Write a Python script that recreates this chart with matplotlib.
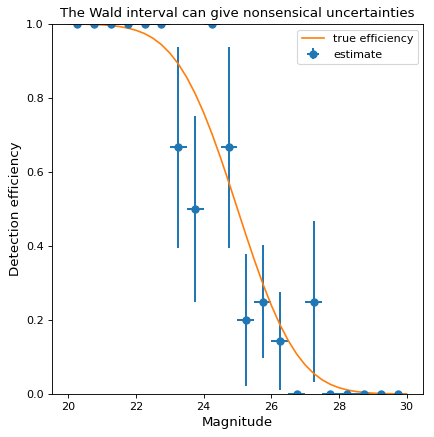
import matplotlib
matplotlib.use("Agg")
import matplotlib.pyplot as plt

# Binned estimates
mag_centers = [20.25, 20.75, 21.25, 21.75, 22.25, 22.75, 23.25, 23.75, 24.25, 24.75,
               25.25, 25.75, 26.25, 26.75, 27.25, 27.75, 28.25, 28.75, 29.25, 29.75]
efficiency = [1.0, 1.0, 1.0, 1.0, 1.0, 1.0, 0.667, 0.5, 1.0, 0.667,
              0.2, 0.25, 0.143, 0.0, 0.25, 0.0, 0.0, 0.0, 0.0, 0.0]
eff_err = [0.0, 0.0, 0.0, 0.0, 0.0, 0.0, 0.272, 0.25, 0.0, 0.272,
           0.179, 0.153, 0.132, 0.0, 0.217, 0.0, 0.0, 0.0, 0.0, 0.0]
bin_halfwidth = [0.25] * 20

# True efficiency curve
true_mag = [20.0, 20.25, 20.5, 20.75, 21.0, 21.25, 21.5, 21.75, 22.0, 22.25,
            22.5, 22.75, 23.0, 23.25, 23.5, 23.75, 24.0, 24.25, 24.5, 24.75,
            25.0, 25.25, 25.5, 25.75, 26.0, 26.25, 26.5, 26.75, 27.0, 27.25,
            27.5, 27.75, 28.0, 28.25, 28.5, 28.75, 29.0, 29.25, 29.5, 29.75, 30.0]
true_eff = [0.9998, 0.9996, 0.9993, 0.9987, 0.9977, 0.9960, 0.9933, 0.9892, 0.9830, 0.9741,
            0.9615, 0.9442, 0.9214, 0.8920, 0.8556, 0.8116, 0.7602, 0.7021, 0.6382, 0.5702,
            0.5000, 0.4298, 0.3618, 0.2979, 0.2398, 0.1884, 0.1444, 0.1080, 0.0786, 0.0558,
            0.0385, 0.0259, 0.0170, 0.0108, 0.0067, 0.0040, 0.0023, 0.0013, 0.0007, 0.0004, 0.0002]

xticks = [20, 22, 24, 26, 28, 30]
yticks = [0.0, 0.2, 0.4, 0.6, 0.8, 1.0]

DPI = 80
W, H = 434, 437
fig = plt.figure(figsize=(W / DPI, H / DPI), dpi=DPI)
ax = fig.add_axes([51.5 / W, 1 - 394 / H, (423.5 - 51.5) / W, (394 - 24) / H])

ax.errorbar(mag_centers, efficiency, xerr=bin_halfwidth, yerr=eff_err,
            fmt='o', color='#1f77b4', linewidth=1.8, markersize=6.5, label='estimate')
ax.plot(true_mag, true_eff, color='#ff7f0e', linewidth=1.5, label='true efficiency')

ax.set_ylim(0, 1)
ax.set_xlim(19.5, 30.5)
ax.set_xticks(xticks)
ax.set_yticks(yticks)
ax.set_xticklabels([str(t) for t in xticks])
ax.set_yticklabels([f"{t:.1f}" for t in yticks])
ax.tick_params(labelsize=10)
ax.set_xlabel('Magnitude', fontsize=12)
ax.set_ylabel('Detection efficiency', fontsize=12)
ax.set_title('The Wald interval can give nonsensical uncertainties', fontsize=12)
ax.legend(loc='upper right', fontsize=10)

fig.savefig('out.png', dpi=DPI)
